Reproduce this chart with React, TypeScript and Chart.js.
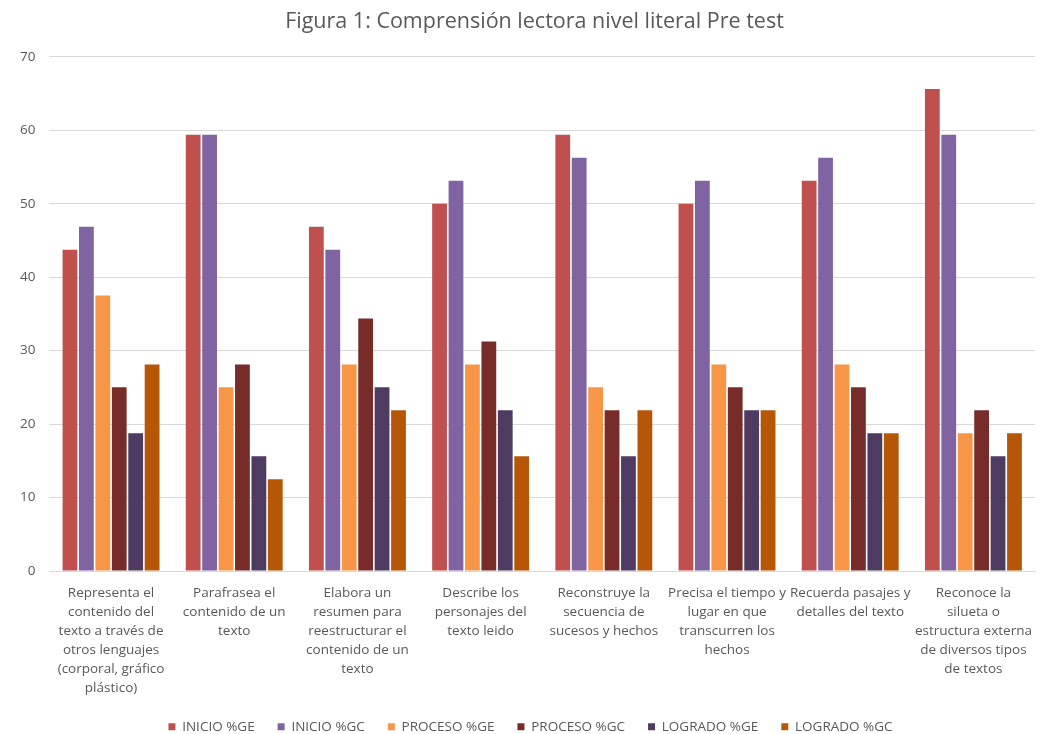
import React, { useEffect, useRef } from "react";
import { Chart, registerables } from "chart.js";

Chart.register(...registerables);

const categories: string[][] = [
  ["Representa el", "contenido del", "texto a través de", "otros lenguajes", "(corporal, gráfico", "plástico)"],
  ["Parafrasea el", "contenido de un", "texto"],
  ["Elabora un", "resumen para", "reestructurar el", "contenido de un", "texto"],
  ["Describe los", "personajes del", "texto leido"],
  ["Reconstruye la", "secuencia de", "sucesos y hechos"],
  ["Precisa el tiempo y", "lugar en que", "transcurren los", "hechos"],
  ["Recuerda pasajes y", "detalles del texto"],
  ["Reconoce la", "silueta o", "estructura externa", "de diversos tipos", "de textos"],
];

const inicioGE = [43.75, 59.375, 46.875, 50, 59.375, 50, 53.125, 65.625];
const inicioGC = [46.875, 59.375, 43.75, 53.125, 56.25, 53.125, 56.25, 59.375];
const procesoGE = [37.5, 25, 28.125, 28.125, 25, 28.125, 28.125, 18.75];
const procesoGC = [25, 28.125, 34.375, 31.25, 21.875, 25, 25, 21.875];
const logradoGE = [18.75, 15.625, 25, 21.875, 15.625, 21.875, 18.75, 15.625];
const logradoGC = [28.125, 12.5, 21.875, 15.625, 21.875, 21.875, 18.75, 18.75];

const seriesNames = ["INICIO %GE", "INICIO %GC", "PROCESO %GE", "PROCESO %GC", "LOGRADO %GE", "LOGRADO %GC"];
const seriesColors = ["#C0504D", "#8064A2", "#F79646", "#772C2A", "#4D3B62", "#B65708"];

const title = "Figura 1: Comprensión lectora nivel literal Pre test";

const FONT = "'Open Sans', Lato, sans-serif";

const blockShift = {
  id: "blockShift",
  afterLayout(chart: any) {
    const lg = chart.legend;
    if (lg) {
      lg.left += 10;
      lg.right += 10;
    }
    const tb = chart.titleBlock;
    if (tb) {
      tb.left += 14;
      tb.right += 14;
    }
  },
};

export default function App() {
  const ref = useRef<HTMLCanvasElement | null>(null);

  useEffect(() => {
    document.body.style.margin = "0";
    if (!ref.current) return;
    const values = [inicioGE, inicioGC, procesoGE, procesoGC, logradoGE, logradoGC];
    const chart = new Chart(ref.current, {
      type: "bar",
      data: {
        labels: categories,
        datasets: values.map((v, i) => ({
          label: seriesNames[i],
          data: v,
          backgroundColor: seriesColors[i],
          borderWidth: 0,
        })),
      },
      plugins: [blockShift],
      options: {
        animation: false,
        responsive: false,
        maintainAspectRatio: false,
        layout: { padding: { left: 6, right: 13, top: 7, bottom: 0 } },
        plugins: {
          title: {
            display: true,
            text: title,
            color: "#595959",
            font: { family: FONT, size: 21.5, weight: "normal" },
            padding: { top: 2, bottom: 22 },
          },
          legend: {
            position: "bottom",
            maxHeight: 37,
            labels: {
              boxWidth: 7,
              boxHeight: 7,
              color: "#595959",
              padding: 23,
              font: { family: FONT, size: 13.5 },
            },
          },
          tooltip: { enabled: false },
        },
        scales: {
          x: {
            grid: { display: false, drawTicks: false },
            border: { display: true, color: "#D9D9D9" },
            ticks: {
              color: "#595959",
              maxRotation: 0,
              autoSkip: false,
              padding: 12.5,
              font: { family: FONT, size: 13.5, lineHeight: 1.41 },
            },
            afterFit: (scale: any) => {
              scale.height = 126;
            },
            categoryPercentage: 0.81,
            barPercentage: 0.8,
          } as any,
          y: {
            min: 0,
            max: 70,
            ticks: {
              stepSize: 10,
              color: "#595959",
              padding: 14,
              font: { family: FONT, size: 13.5 },
            },
            grid: { color: "#D9D9D9", drawTicks: false },
            border: { display: false },
          },
        },
      },
    });
    return () => chart.destroy();
  }, []);

  return (
    <div style={{ width: 1048, height: 734, background: "#FFFFFF" }}>
      <canvas ref={ref} width={1048} height={734} style={{ display: "block" }} />
    </div>
  );
}
